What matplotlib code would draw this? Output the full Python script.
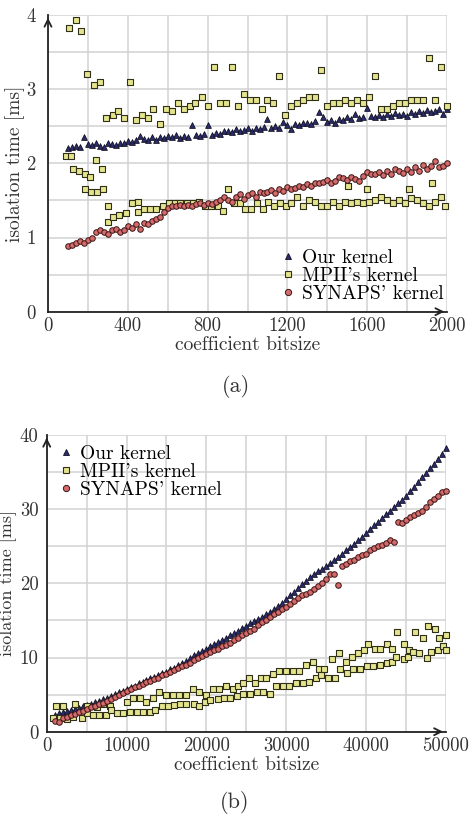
import matplotlib
matplotlib.use("Agg")
import matplotlib.pyplot as plt
from matplotlib.lines import Line2D
import numpy as np

plt.rcParams['font.family'] = ['cmr10', 'DejaVu Serif']
plt.rcParams['axes.formatter.use_mathtext'] = True

# ---------------- data: panel (a) ----------------
labels = ["Our kernel", "MPII's kernel", "SYNAPS' kernel"]

a_x = list(range(100, 2001, 20))
our_a = [2.20, 2.22, 2.24, 2.22, 2.36, 2.26, 2.25, 2.27, 2.24, 2.22,
         2.27, 2.26, 2.25, 2.28, 2.27, 2.30, 2.29, 2.32, 2.37, 2.33,
         2.31, 2.35, 2.32, 2.36, 2.34, 2.37, 2.35, 2.38, 2.34, 2.37,
         2.36, 2.52, 2.38, 2.37, 2.40, 2.52, 2.38, 2.41, 2.40, 2.43,
         2.44, 2.42, 2.46, 2.43, 2.45, 2.47, 2.44, 2.48, 2.46, 2.49,
         2.60, 2.47, 2.50, 2.48, 2.56, 2.52, 2.46, 2.53, 2.51, 2.54,
         2.55, 2.53, 2.57, 2.69, 2.62, 2.56, 2.58, 2.55, 2.60, 2.58,
         2.62, 2.60, 2.67, 2.61, 2.63, 2.75, 2.64, 2.62, 2.65, 2.63,
         2.66, 2.64, 2.68, 2.65, 2.67, 2.64, 2.69, 2.66, 2.70, 2.68,
         2.72, 2.69, 2.71, 2.73, 2.66, 2.73]
syn_a = [0.88, 0.90, 0.92, 0.95, 0.92, 0.97, 1.00, 1.08, 1.10, 1.07,
         1.05, 1.10, 1.12, 1.08, 1.10, 1.15, 1.13, 1.18, 1.12, 1.20,
         1.18, 1.22, 1.25, 1.28, 1.35, 1.40, 1.42, 1.43, 1.44, 1.43,
         1.44, 1.42, 1.45, 1.46, 1.44, 1.47, 1.45, 1.48, 1.50, 1.55,
         1.50, 1.48, 1.55, 1.58, 1.52, 1.57, 1.60, 1.55, 1.62, 1.60,
         1.62, 1.64, 1.60, 1.66, 1.63, 1.68, 1.65, 1.67, 1.70, 1.68,
         1.72, 1.70, 1.74, 1.73, 1.75, 1.78, 1.74, 1.76, 1.82, 1.80,
         1.78, 1.82, 1.79, 1.76, 1.83, 1.88, 1.86, 1.85, 1.88, 1.84,
         1.90, 1.86, 1.92, 1.89, 1.87, 1.92, 1.88, 1.95, 1.90, 1.98,
         1.93, 1.96, 2.03, 1.95, 1.97, 2.00]

mpii_a_hi_x = [105, 140, 165, 195, 230, 260, 410, 290, 325, 350, 380,
               440, 470, 500, 525, 560, 590, 620, 650, 680, 710,
               735, 770, 800, 830, 860, 890, 920, 950, 980, 1010,
               1040, 1070, 1100, 1130, 1160, 1190, 1220, 1250, 1280, 1310,
               1340, 1370, 1400, 1430, 1460, 1490, 1520, 1550, 1580, 1610,
               1640, 1670, 1700, 1730, 1760, 1790, 1820, 1850, 1880, 1910,
               1940, 1970, 2000]
mpii_a_hi_y = [3.82, 3.93, 3.78, 3.21, 3.06, 3.10, 3.10, 2.61, 2.65, 2.70, 2.61,
               2.58, 2.65, 2.61, 2.73, 2.53, 2.73, 2.70, 2.81, 2.73, 2.77,
               2.81, 2.90, 2.77, 3.30, 2.81, 2.81, 3.30, 2.77, 2.93, 2.85,
               2.85, 2.73, 2.85, 2.81, 3.18, 2.65, 2.77, 2.81, 2.85, 2.90,
               2.90, 3.26, 2.77, 2.81, 2.81, 2.85, 2.81, 2.85, 2.81, 2.90,
               3.18, 2.73, 2.73, 2.77, 2.81, 2.81, 2.85, 2.85, 2.85, 3.42,
               2.85, 3.30, 2.77]
mpii_a_lo_x = [90, 115, 125, 155, 185, 210, 185, 215, 245, 240,
               270, 275, 300, 300, 325, 355, 390, 420, 450, 450,
               480, 510, 540, 575, 605, 635, 660, 695, 725, 755,
               785, 815, 850, 875, 900, 930, 960, 985, 1015, 1045,
               1075, 1105, 1135, 1165, 1195, 1220, 1250, 1280, 1310, 1340,
               1370, 1400, 1430, 1460, 1490, 1505, 1520, 1550, 1580, 1600,
               1610, 1640, 1670, 1700, 1730, 1760, 1790, 1810, 1820, 1850,
               1880, 1910, 1925, 1940, 1970, 1990]
mpii_a_lo_y = [2.10, 2.10, 1.93, 1.89, 1.86, 1.81, 1.65, 1.61, 1.61, 2.05,
               1.93, 1.65, 1.42, 1.21, 1.28, 1.30, 1.33, 1.46, 1.35, 1.48,
               1.38, 1.39, 1.38, 1.42, 1.46, 1.46, 1.46, 1.46, 1.46, 1.48,
               1.42, 1.42, 1.42, 1.36, 1.66, 1.46, 1.46, 1.38, 1.38, 1.46,
               1.38, 1.48, 1.42, 1.46, 1.42, 1.46, 1.55, 1.42, 1.50, 1.48,
               1.42, 1.42, 1.48, 1.42, 1.48, 1.69, 1.46, 1.48, 1.46, 1.65,
               1.48, 1.50, 1.55, 1.50, 1.46, 1.50, 1.46, 1.65, 1.53, 1.50,
               1.46, 1.42, 1.73, 1.48, 1.55, 1.42]

# ---------------- data: panel (b) ----------------
b_x = list(range(1000, 50001, 500))
our_b = [2.3, 2.5, 2.6, 2.8, 2.9, 3.1, 3.2, 3.4, 3.6, 3.8,
         4.0, 4.2, 4.4, 4.6, 4.8, 5.1, 5.3, 5.5, 5.8, 6.0,
         6.2, 6.5, 6.7, 7.0, 7.2, 7.4, 7.6, 7.9, 8.1, 8.4,
         8.6, 9.0, 9.3, 9.5, 9.9, 10.3, 10.6, 10.9, 11.2, 11.5,
         11.8, 12.1, 12.4, 12.7, 13.0, 13.3, 13.6, 14.0, 14.3, 14.6,
         14.9, 15.2, 15.5, 15.9, 16.2, 16.6, 17.0, 17.4, 17.9, 18.4,
         18.9, 19.4, 19.9, 20.3, 20.8, 21.2, 21.6, 22.0, 22.4, 22.8,
         23.2, 23.6, 24.0, 24.5, 24.9, 25.3, 25.8, 26.3, 26.8, 27.3,
         27.8, 28.3, 28.8, 29.3, 29.8, 30.3, 30.8, 31.3, 31.8, 32.4,
         33.0, 33.6, 34.3, 34.9, 35.5, 36.1, 36.8, 37.5, 38.2]
syn_b = [1.5, 1.3, 1.8, 2.0, 2.2, 2.4, 2.6, 2.8, 3.0, 3.3,
         3.5, 3.7, 3.9, 4.2, 4.4, 4.7, 5.0, 5.2, 5.5, 5.8,
         6.0, 6.2, 6.4, 6.7, 6.9, 7.1, 7.3, 7.6, 7.8, 8.1,
         8.3, 8.6, 8.8, 9.0, 9.3, 9.6, 9.9, 10.2, 10.5, 10.7,
         11.0, 11.2, 11.5, 11.7, 12.0, 12.3, 12.6, 13.0, 13.3, 13.6,
         13.9, 14.4, 14.8, 15.1, 15.5, 15.9, 16.2, 16.5, 16.8, 17.2,
         17.6, 18.0, 18.4, 18.6, 18.9, 19.2, 19.6, 20.1, 20.6, 21.3,
         21.2, 19.8, 22.3, 22.6, 23.0, 23.2, 23.5, 23.8, 24.0, 24.5,
         24.8, 25.0, 25.2, 25.5, 25.8, 25.6, 28.3, 28.2, 28.6, 28.9,
         29.2, 29.5, 29.8, 30.3, 31.0, 31.4, 31.8, 32.3, 32.5]

mpii_b_hi_x = [1200, 2000, 3500, 5000, 6300, 7100, 7900, 10000, 10800, 11700,
               12500, 13300, 14100, 14900, 15800, 16600, 17400, 18300, 19100, 19900,
               20800, 21600, 22400, 23300, 24000, 24600, 25300, 26100, 26900, 27500,
               28300, 29100, 30000, 30800, 31600, 32500, 33300, 34100, 34800, 35800,
               36600, 37500, 38200, 39000, 39700, 40300, 41100, 41800, 42600, 43300,
               43900, 44700, 45400, 46200, 47100, 47800, 48600, 49200, 50000]
mpii_b_hi_y = [3.4, 3.4, 3.7, 3.5, 3.3, 3.8, 3.5, 4.0, 4.6, 4.6,
               4.0, 4.6, 5.4, 4.9, 4.9, 4.9, 4.9, 5.7, 5.4, 4.9,
               5.7, 5.7, 6.2, 5.7, 6.2, 6.5, 7.3, 6.5, 7.3, 7.3,
               7.8, 8.2, 8.2, 8.2, 8.2, 9.0, 9.4, 8.5, 8.5, 9.8,
               10.6, 9.4, 10.1, 10.6, 11.0, 11.8, 11.2, 11.2, 11.8, 11.2,
               13.4, 11.8, 11.0, 13.4, 12.6, 14.2, 13.8, 12.6, 13.0]
mpii_b_lo_x = [800, 1700, 2500, 3300, 4400, 5000, 5800, 6600, 7400, 8100,
               8800, 9600, 10400, 11300, 12100, 12900, 13600, 14400, 15200, 15900,
               16700, 17500, 18400, 19100, 19800, 20500, 21400, 22200, 23000, 23800,
               24600, 25500, 26300, 27100, 28000, 28700, 29600, 30400, 31200, 32100,
               32900, 33700, 34400, 35300, 36100, 36700, 37600, 38400, 39200, 40100,
               40900, 41700, 42600, 43200, 43800, 44700, 45300, 45900, 46700, 47600,
               48200, 49000, 49700, 50000]
mpii_b_lo_y = [1.8, 1.9, 1.7, 2.0, 1.9, 2.5, 2.2, 2.2, 2.2, 2.9,
               2.5, 2.5, 2.7, 2.7, 2.7, 2.7, 2.9, 3.4, 3.4, 3.6,
               3.7, 3.8, 3.8, 3.5, 4.0, 4.3, 4.4, 4.5, 4.6, 4.8,
               5.1, 5.1, 5.3, 5.4, 5.1, 6.1, 6.2, 6.2, 6.5, 6.6,
               6.7, 7.2, 7.6, 7.3, 7.3, 8.5, 7.9, 8.4, 8.4, 8.8,
               8.8, 9.0, 9.3, 9.4, 10.1, 9.8, 10.1, 10.8, 10.6, 9.9,
               10.8, 11.0, 11.5, 11.0]

a_xticks = [0, 400, 800, 1200, 1600, 2000]
a_yticks = [0, 1, 2, 3, 4]
b_xticks = [0, 10000, 20000, 30000, 40000, 50000]
b_yticks = [0, 10, 20, 30, 40]

# ---------------- styles ----------------
TRI = dict(marker='^', s=17, facecolor='#2b2b6e', edgecolor='#101020', linewidths=0.6)
SQR = dict(marker='s', s=15, facecolor='#e4e48e', edgecolor='#303018', linewidths=0.8)
CIR = dict(marker='o', s=16, facecolor='#d46a6a', edgecolor='#3a1515', linewidths=0.7)
FS_TICK = 13.5
FS_LAB = 14
FS_LEG = 14
TXT = '#333333'

fig = plt.figure(figsize=(4.69, 8.14), dpi=100)
axA = fig.add_axes([0.1023, 0.6171, 0.851, 0.3645])
axB = fig.add_axes([0.0996, 0.1011, 0.851, 0.3645])


def style(ax, xmax, ymax, xt, xminor, yt, yminor, ypad):
    ax.set_xlim(0, xmax)
    ax.set_ylim(0, ymax)
    ax.set_xticks(xt)
    ax.set_xticklabels([str(v) for v in xt])
    ax.set_yticks(yt)
    ax.set_yticklabels([str(v) for v in yt])
    ax.set_xticks(np.arange(0, xmax + 1, xminor), minor=True)
    ax.set_yticks(np.arange(0, ymax + 0.001, yminor), minor=True)
    ax.grid(True, which='both', color='#d2d2d2', lw=1.1)
    ax.set_axisbelow(True)
    for s in ['top', 'right']:
        ax.spines[s].set_visible(False)
    for s in ['left', 'bottom']:
        ax.spines[s].set_linewidth(1.3)
        ax.spines[s].set_color('#222222')
    ax.tick_params(which='both', length=0, labelsize=FS_TICK, colors=TXT)
    ax.tick_params(axis='x', pad=4)
    ax.tick_params(axis='y', pad=ypad)
    arr = dict(arrowstyle='->,head_length=0.5,head_width=0.25', lw=1.3, color='#222222')
    ax.annotate('', xy=(1.0, 0), xytext=(0.97, 0), xycoords='axes fraction',
                arrowprops=arr, annotation_clip=False)
    ax.annotate('', xy=(0, 1.0), xytext=(0, 0.97), xycoords='axes fraction',
                arrowprops=arr, annotation_clip=False)
    ax.set_xlabel('coefficient bitsize', fontsize=FS_LAB, color=TXT)
    ax.xaxis.set_label_coords(0.5, -0.083)


style(axA, 2000, 4, a_xticks, 200, a_yticks, 0.5, 9)
style(axB, 50000, 40, b_xticks, 5000, b_yticks, 5, 6)
axA.set_ylabel('isolation time [ms]', fontsize=FS_LAB, color=TXT)
axB.set_ylabel('isolation time [ms]', fontsize=13, color=TXT)
axA.yaxis.set_label_coords(-0.058, 0.5)
axB.yaxis.set_label_coords(-0.075, 0.5)

for ax, x, our, syn, hx, hy, lx, ly in [
        (axA, a_x, our_a, syn_a, mpii_a_hi_x, mpii_a_hi_y, mpii_a_lo_x, mpii_a_lo_y),
        (axB, b_x, our_b, syn_b, mpii_b_hi_x, mpii_b_hi_y, mpii_b_lo_x, mpii_b_lo_y)]:
    ax.scatter(x, our, zorder=3, clip_on=False, **TRI)
    ax.scatter(hx + lx, hy + ly, zorder=4, clip_on=False, **SQR)
    ax.scatter(x, syn, zorder=5, clip_on=False, **CIR)

handles = [Line2D([], [], ls='none', marker='^', ms=4.5, mfc='#2b2b6e', mec='#101020', mew=0.6),
           Line2D([], [], ls='none', marker='s', ms=4, mfc='#e4e48e', mec='#303018', mew=0.8),
           Line2D([], [], ls='none', marker='o', ms=4.5, mfc='#d46a6a', mec='#3a1515', mew=0.7)]
legkw = dict(frameon=False, fontsize=FS_LEG, handlelength=0.6, handletextpad=0.4,
             labelspacing=0.0, borderpad=0.2)
axA.legend(handles, labels, loc='lower right', bbox_to_anchor=(1.025, -0.015), **legkw)
axB.legend(handles, labels, loc='upper left', bbox_to_anchor=(0.0, 1.012), **legkw)

fig.text(0.503, 1 - 387 / 814, '(a)', ha='center', va='center', fontsize=16, color=TXT)
fig.text(0.500, 1 - 802 / 814, '(b)', ha='center', va='center', fontsize=16, color=TXT)

fig.savefig('out.png', dpi=100)
